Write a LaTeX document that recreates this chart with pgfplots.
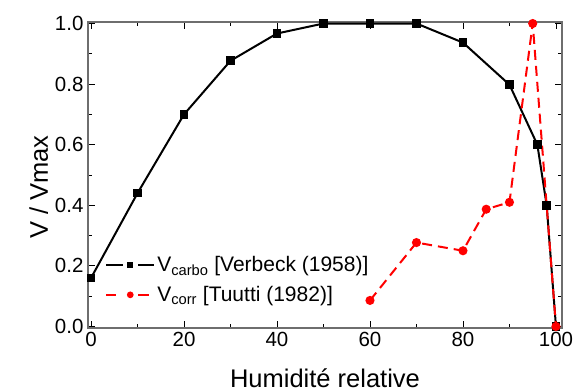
\documentclass[border=0pt]{standalone}
\usepackage{fontspec}
\setmainfont{Liberation Sans}
\usepackage{pgfplots}
\pgfplotsset{compat=1.18}

\definecolor{corrred}{RGB}{255,0,0}
\definecolor{frame}{RGB}{110,110,110}

% legend samples: line broken around a small marker
\pgfplotsset{
  carbo legend/.style={legend image code/.code={
    \draw[##1, mark=none] (0pt,0pt) -- (17pt,0pt);
    \draw[##1, mark=none] (32pt,0pt) -- (48pt,0pt);
    \draw[##1, only marks, mark size=2pt] plot coordinates {(24pt,0pt)};
  }},
  corr legend/.style={legend image code/.code={
    \draw[##1, solid, mark=none] (0pt,0pt) -- (10pt,0pt);
    \draw[##1, solid, mark=none] (32pt,0pt) -- (43pt,0pt);
    \draw[##1, only marks, mark size=2.3pt] plot coordinates {(24pt,0pt)};
  }},
}

\begin{document}
\begin{tikzpicture}
\begin{axis}[
  scale only axis,
  width=474pt, height=306pt,
  xmin=-0.65, xmax=101.3,
  ymin=-0.005, ymax=1.005,
  xtick={0,20,...,100},
  minor xtick={10,30,...,90},
  ytick={0,0.2,...,1.0},
  minor ytick={0.1,0.3,...,0.9},
  tick align=inside,
  major tick length=7pt,
  minor tick length=4pt,
  every tick/.style={black, line width=0.8pt},
  axis line style={frame, line width=1.4pt},
  /pgf/number format/assume math mode=true,
  yticklabel style={/pgf/number format/fixed, /pgf/number format/fixed zerofill,
    /pgf/number format/precision=1, xshift=-1pt},
  ticklabel style={font=\fontsize{20.5}{22}\selectfont},
  xticklabel style={yshift=-1pt},
  xlabel={Humidité relative},
  ylabel={V / Vmax},
  label style={font=\fontsize{25.5}{28}\selectfont},
  xlabel style={yshift=-15pt},
  ylabel style={at={(ticklabel cs:0.46)}, yshift=0pt},
  legend cell align=left,
  legend style={at={(0.036,0.24)}, anchor=north west, draw=none, fill=none,
    font=\fontsize{21}{23}\selectfont, row sep=9pt, inner sep=0pt,
    /tikz/every even column/.append style={column sep=7pt}},
]
\coordinate (sw) at (rel axis cs:0,0);
\coordinate (ne) at (rel axis cs:1,1);

% Carbonation rate (Verbeek 1958)
\addplot[black, line width=2pt, mark=square*, mark size=3.3pt, carbo legend] coordinates {
  (0,0.16) (10,0.44) (20,0.70) (30,0.877) (40,0.967) (50,1.0) (60,1.0)
  (70,1.0) (80,0.937) (90,0.798) (96,0.60) (98,0.40) (100,0.0)
};
\addlegendentry{V\textsubscript{carbo} [Verbeck (1958)]}

% Corrosion rate (Tuutti 1982)
\addplot[corrred, line width=2pt, dash pattern=on 10pt off 6pt,
  mark=*, mark size=3.5pt, mark options={solid}, corr legend] coordinates {
  (60,0.086) (70,0.277) (80,0.25) (85,0.387) (90,0.41) (95,1.0) (100,0.0)
};
\addlegendentry{V\textsubscript{corr} [Tuutti (1982)]}
\end{axis}
\pgfresetboundingbox
\path[use as bounding box] ([shift={(-88pt,-64pt)}]sw) rectangle ([shift={(12pt,22pt)}]ne);
\end{tikzpicture}
\end{document}
